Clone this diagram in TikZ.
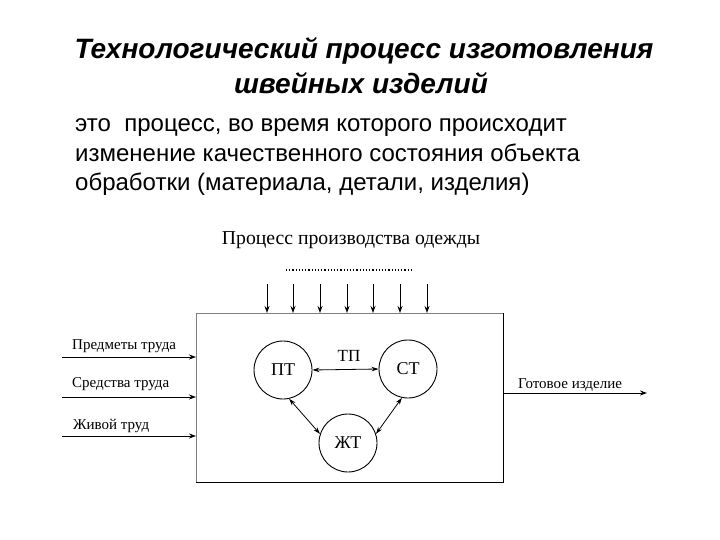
\documentclass[tikz,border=0pt]{standalone}
\usepackage{fontspec}
\setmainfont{Liberation Serif}
\newfontfamily\arialf{Liberation Sans}
\usetikzlibrary{arrows.meta}
\tikzset{
  arr/.style={-{Stealth[length=7pt,width=5pt]}, line width=0.9pt},
  darr/.style={{Stealth[length=7pt,width=4.5pt]}-{Stealth[length=7pt,width=4.5pt]}, line width=0.8pt},
  circ/.style={circle, draw, line width=0.9pt, minimum size=58pt, inner sep=0pt, font=\fontsize{18}{20}\selectfont},
  lbl/.style={font=\fontsize{15}{17}\selectfont, inner sep=0pt},
  ttl/.style={font=\arialf\fontsize{28}{32}\selectfont\bfseries\itshape, inner sep=0pt, anchor=base},
  body/.style={font=\arialf\fontsize{24}{30}\selectfont, inner sep=0pt, anchor=base west}
}
\begin{document}
\begin{tikzpicture}[x=1pt,y=-1pt]
\useasboundingbox (0,0) rectangle (720,540);
% titles
\node[ttl] (t1) at (364,59) {Технологический процесс изготовления};
\node[ttl] (t2) at (361,94) {швейных изделий};
\node[body] (b1) at (75,132) {это\ \ процесс, во время которого происходит};
\node[body] (b2) at (75,162) {изменение качественного состояния объекта};
\node[body] (b3) at (75,191) {обработки (материала, детали, изделия)};
% diagram header
\node[font=\fontsize{19.7}{22}\selectfont, inner sep=0pt] (hd) at (351,240) {Процесс производства одежды};
\draw[line width=1.6pt, dash pattern=on 1.2pt off 2pt] (286,270) -- (412,270);
% box
\coordinate (bl) at (196,482);
\coordinate (tl) at (196,313);
\coordinate (tr) at (503,313);
\coordinate (br) at (503,482);
\draw[line width=1pt, black!50] (bl) -- (tl) -- (tr);
\draw[line width=1pt] (tr) -- (br) -- (bl);
% down arrows
\foreach \x in {267,293,320,347,373,400,427}{
  \coordinate (d\x) at (\x,284);
  \coordinate (e\x) at (\x,313);
  \draw[arr] (d\x) -- (e\x);
}
% inputs
\coordinate (i1) at (62,357); \coordinate (j1) at (196,357);
\coordinate (i2) at (62,397); \coordinate (j2) at (196,397);
\coordinate (i3) at (62,436); \coordinate (j3) at (196,436);
\draw[arr] (i1) -- (j1);
\draw[arr] (i2) -- (j2);
\draw[arr] (i3) -- (j3);
\node[lbl, anchor=west] (l1) at (72,346) {Предметы труда};
\node[lbl, anchor=west] (l2) at (72,384) {Средства труда};
\node[lbl, anchor=west] (l3) at (73,426) {Живой труд};
% output
\coordinate (o1) at (503,393); \coordinate (o2) at (647,393);
\draw[arr] (o1) -- (o2);
\node[lbl, anchor=west] (lo) at (518,385) {Готовое изделие};
% circles
\node[circ] (pt) at (283,370) {ПТ};
\node[circ] (st) at (408,369) {СТ};
\node[circ] (zt) at (348,443) {ЖТ};
\node[font=\fontsize{17}{18}\selectfont, inner sep=0pt] (tp) at (349,356) {ТП};
\draw[darr] (pt.east) -- (st.west);
\draw[darr] (pt.-78) -- (zt.162);
\draw[darr] (st.-102) -- (zt.18);
\end{tikzpicture}
\end{document}
